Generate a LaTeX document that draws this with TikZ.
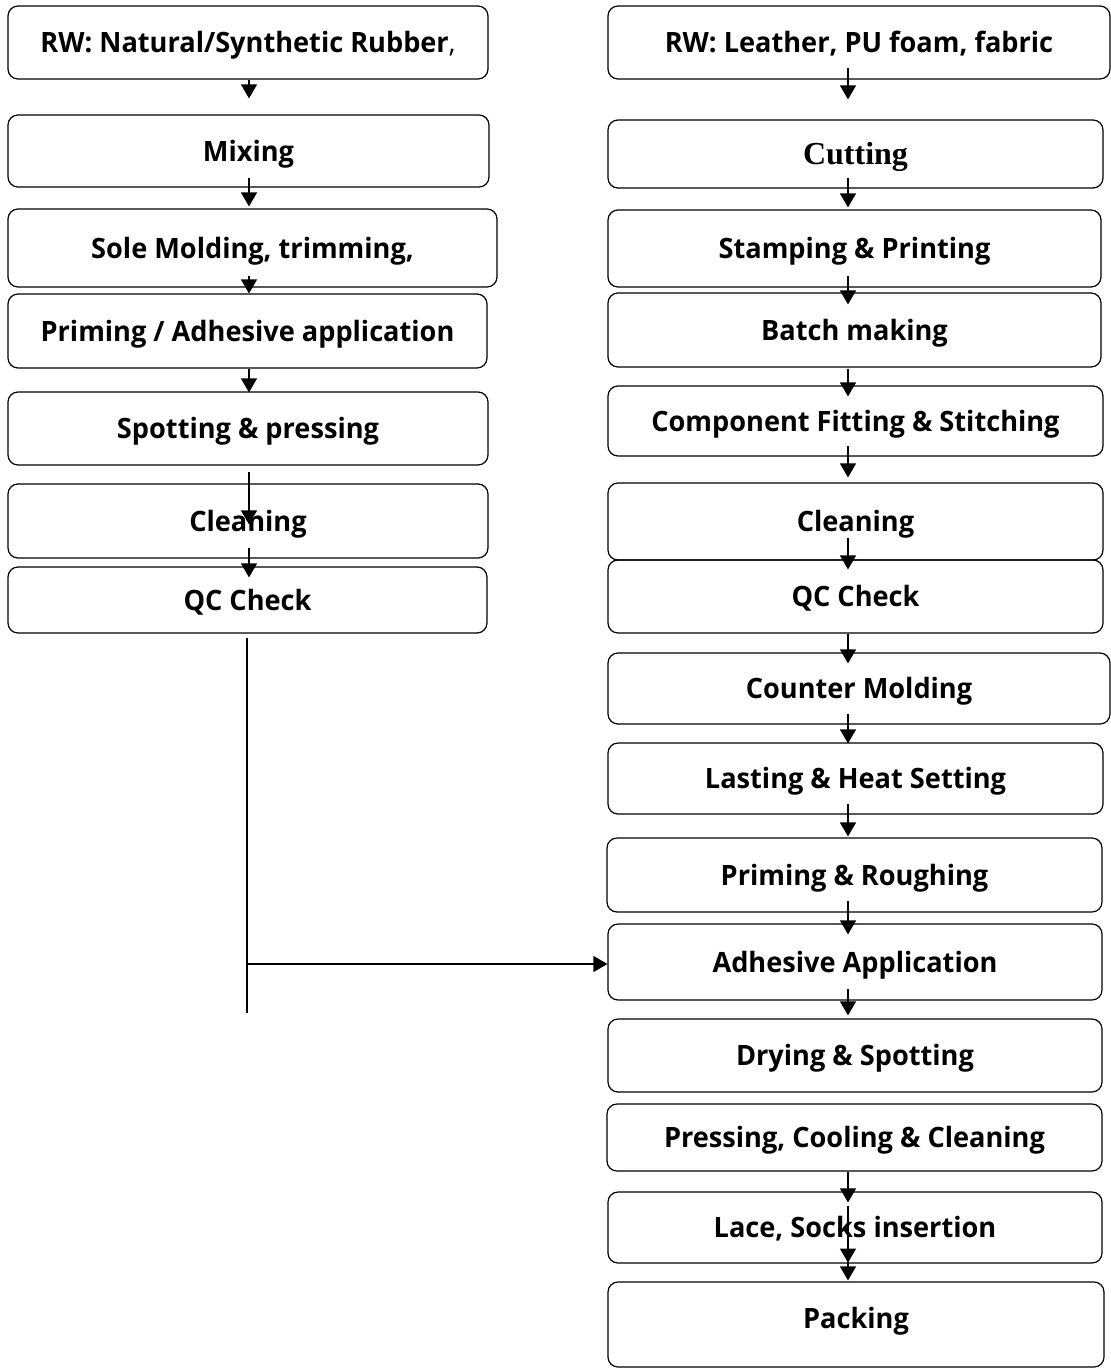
\documentclass[tikz,border=0pt]{standalone}
\usepackage{fontspec}
\setmainfont{Open Sans}[FakeStretch=0.97]
\newfontfamily\serifbold{Liberation Serif}
\usetikzlibrary{arrows.meta,calc}
\newcommand{\stepbox}[6]{\node[box, minimum width=#4*0.5pt, minimum height=#5*0.5pt] (#1) at (#2,#3) {#6};}
\begin{document}
\begin{tikzpicture}[x=0.5pt,y=-0.5pt,
  box/.style={draw, line width=0.6pt, rounded corners=5pt, inner sep=0pt,
    font=\fontsize{14}{16}\selectfont\bfseries, text height=10pt, text depth=0pt},
  arr/.style={-{Triangle[length=7pt,width=8pt]}, line width=0.6pt}]
\useasboundingbox (0,0) rectangle (1111,1371);
% left column
\stepbox{L1}{248}{42.5}{480}{73}{RW: Natural/Synthetic Rubber\textmd{,}}
\stepbox{L2}{248.5}{151}{481}{72}{Mixing}
\stepbox{L3}{252.5}{248}{489}{78}{Sole Molding, trimming,}
\stepbox{L4}{247.5}{331}{479}{74}{Priming / Adhesive application}
\stepbox{L5}{248}{428.5}{480}{73}{Spotting \& pressing}
\stepbox{L6}{248}{521}{480}{74}{Cleaning}
\stepbox{L7}{247.5}{600}{479}{66}{QC Check}
% right column
\stepbox{R1}{859}{42.5}{502}{73}{RW: Leather, PU foam, fabric}
\stepbox{R2}{855.5}{154}{495}{68}{{\serifbold\fontsize{16}{18}\selectfont Cutting}}
\stepbox{R3}{854.5}{248.5}{493}{77}{Stamping \& Printing}
\stepbox{R4}{854.5}{330}{493}{74}{Batch making}
\stepbox{R5}{855.5}{421}{495}{70}{Component Fitting \& Stitching}
\stepbox{R6}{855.5}{521.5}{495}{77}{Cleaning}
\stepbox{R7}{855.5}{596.5}{495}{73}{QC Check}
\stepbox{R8}{859}{688.5}{502}{71}{Counter Molding}
\stepbox{R9}{855.5}{778.5}{495}{71}{Lasting \& Heat Setting}
\stepbox{R10}{854.5}{875}{495}{74}{Priming \& Roughing}
\stepbox{R11}{855}{962}{494}{76}{Adhesive Application}
\stepbox{R12}{855}{1055.5}{494}{73}{Drying \& Spotting}
\stepbox{R13}{854.5}{1137.5}{495}{67}{Pressing, Cooling \& Cleaning}
\stepbox{R14}{855}{1227.5}{494}{71}{Lace, Socks insertion}
\node[box, minimum width=496*0.5pt, minimum height=85*0.5pt, text depth=6pt] (R15) at (856,1324.5) {Packing};
% guide coordinates
\coordinate (lx) at (249,0);
\coordinate (rx) at (848,0);
\coordinate (qx) at (247,0);
\coordinate (qend) at (247,1013);
\coordinate (jn) at (247,964);
% left arrows
\draw[arr] ($(L1.south -| lx)+(0,0)$) -- ($(L2.north -| lx)+(0,-16)$);
\draw[arr] ($(L2.south -| lx)+(0,-10)$) -- ($(L3.north -| lx)+(0,-2)$);
\draw[arr] ($(L3.south -| lx)+(0,-12)$) -- ($(L4.north -| lx)+(0,0)$);
\draw[arr] ($(L4.south -| lx)+(0,0)$) -- ($(L5.north -| lx)+(0,1)$);
\draw[arr] ($(L5.south -| lx)+(0,6)$) -- ($(L6.north -| lx)+(0,41)$);
\draw[arr] ($(L6.south -| lx)+(0,-11)$) -- ($(L7.north -| lx)+(0,11)$);
\draw[line width=1pt] ($(L7.south -| qx)+(0,4)$) -- (qend);
\draw[arr] (jn) -- (jn -| R11.west);
% right arrows
\draw[arr] ($(R1.south -| rx)+(0,-12)$) -- ($(R2.north -| rx)+(0,-20)$);
\draw[arr] ($(R2.south -| rx)+(0,-11)$) -- ($(R3.north -| rx)+(0,-2)$);
\draw[arr] ($(R3.south -| rx)+(0,-12)$) -- ($(R4.north -| rx)+(0,12)$);
\draw[arr] ($(R4.south -| rx)+(0,1)$) -- ($(R5.north -| rx)+(0,11)$);
\draw[arr] ($(R5.south -| rx)+(0,-11)$) -- ($(R6.north -| rx)+(0,-5)$);
\draw[arr] ($(R6.south -| rx)+(0,-23)$) -- ($(R7.north -| rx)+(0,10)$);
\draw[arr] ($(R7.south -| rx)+(0,0)$) -- ($(R8.north -| rx)+(0,11)$);
\draw[arr] ($(R8.south -| rx)+(0,-11)$) -- ($(R9.north -| rx)+(0,1)$);
\draw[arr] ($(R9.south -| rx)+(0,-11)$) -- ($(R10.north -| rx)+(0,-1)$);
\draw[arr] ($(R10.south -| rx)+(0,-12)$) -- ($(R11.north -| rx)+(0,11)$);
\draw[arr] ($(R11.south -| rx)+(0,-12)$) -- ($(R12.north -| rx)+(0,-3)$);
\draw[arr] ($(R13.south -| rx)+(0,0)$) -- ($(R14.north -| rx)+(0,11)$);
\draw[arr] ($(R14.north -| rx)+(0,15)$) -- ($(R14.south -| rx)+(0,-1)$);
\draw[arr] ($(R14.south -| rx)+(0,-8)$) -- ($(R15.north -| rx)+(0,-1)$);
\end{tikzpicture}
\end{document}
